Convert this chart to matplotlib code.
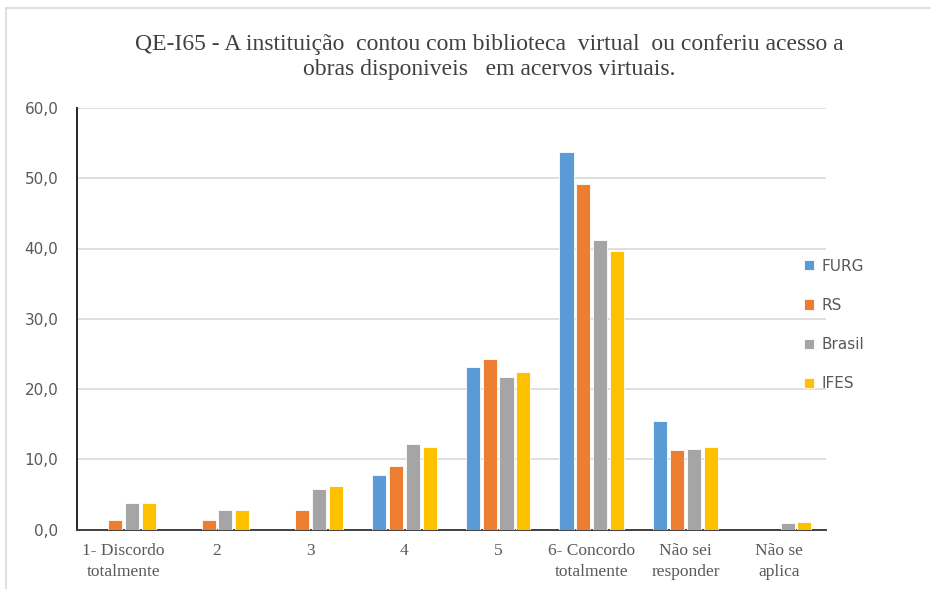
import numpy as np
import matplotlib
matplotlib.use("Agg")
import matplotlib.pyplot as plt
from matplotlib.lines import Line2D

categories = ["1- Discordo\ntotalmente", "2", "3", "4", "5",
              "6- Concordo\ntotalmente", "Não sei\nresponder", "Não se\naplica"]
series = ["FURG", "RS", "Brasil", "IFES"]
furg = [0.0, 0.0, 0.0, 7.7, 23.1, 53.7, 15.4, 0.0]
rs = [1.4, 1.4, 2.8, 9.1, 24.3, 49.2, 11.3, 0.0]
brasil = [3.8, 2.8, 5.8, 12.1, 21.7, 41.2, 11.5, 0.95]
ifes = [3.8, 2.8, 6.2, 11.8, 22.4, 39.7, 11.8, 1.0]
colors = ["#5b9bd5", "#ed7d31", "#a5a5a5", "#ffc000"]
title = ("QE-I65 - A instituição  contou com biblioteca  virtual  ou conferiu acesso a\n"
         "obras disponiveis   em acervos virtuais.")

W, H = 931, 589
fig = plt.figure(figsize=(W / 100, H / 100), dpi=100)
ax = fig.add_axes([76.5 / W, 1 - 529.5 / H, (826 - 76.5) / W, (529.5 - 108) / H])

x = np.arange(len(categories))
bw = 0.15
step = 0.18
for i, (name, vals) in enumerate(zip(series, [furg, rs, brasil, ifes])):
    ax.bar(x + (i - 1.5) * step, vals, width=bw, color=colors[i], label=name,
           edgecolor="white", linewidth=0.6, zorder=3)

ax.set_xlim(-0.5, len(categories) - 0.5)
ax.set_ylim(0, 60)
ax.set_yticks(np.arange(0, 61, 10))
ax.set_yticklabels([f"{v:.1f}".replace(".", ",") for v in np.arange(0, 61, 10)],
                   family="DejaVu Sans", fontsize=11, color="#595959")
ax.set_xticks(x)
ax.set_xticklabels(categories, family="Liberation Serif", fontsize=12.5,
                   color="#595959", linespacing=1.4)
ax.tick_params(axis="x", length=0, pad=10)
ax.tick_params(axis="y", length=0, pad=13)
ax.grid(axis="y", color="#d9d9d9", linewidth=1.2, zorder=0)
for s in ["top", "right"]:
    ax.spines[s].set_visible(False)
ax.spines["left"].set_color("#262626")
ax.spines["left"].set_linewidth(1.4)
ax.spines["bottom"].set_color("#404040")
ax.spines["bottom"].set_linewidth(1.4)

fig.text(489 / W, 1 - 57 / H, title, ha="center", va="center",
         family="Liberation Serif", fontsize=17, color="#404040", linespacing=1.3)

ax.legend(loc="upper left", bbox_to_anchor=(790 / W, 1 - 245 / H),
          bbox_transform=fig.transFigure, frameon=False, prop={"family": "DejaVu Sans", "size": 11},
          labelcolor="#595959", handlelength=0.65, handleheight=0.65, handletextpad=0.5,
          labelspacing=1.58)

# chart border
fig.add_artist(Line2D([6 / W, 6 / W], [0, 1 - 8 / H], transform=fig.transFigure,
                      color="#d9d9d9", linewidth=1.2))
fig.add_artist(Line2D([6 / W, 1], [1 - 8 / H, 1 - 8 / H], transform=fig.transFigure,
                      color="#d9d9d9", linewidth=1.2))

fig.savefig("out.png", dpi=100, facecolor="white")
